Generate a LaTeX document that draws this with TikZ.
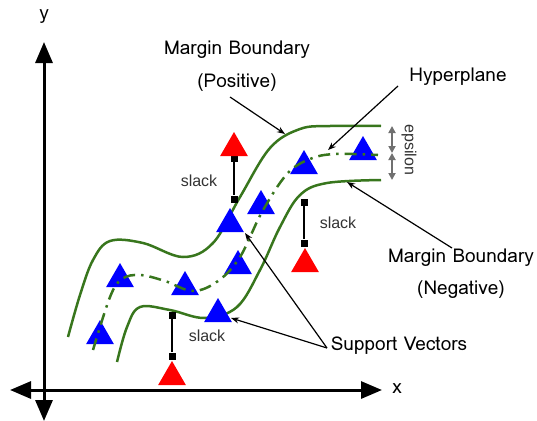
\documentclass[tikz,border=0pt]{standalone}
\usepackage{fontspec}
\setmainfont{Loma}
\newfontfamily\arialf{Liberation Sans}
\usetikzlibrary{arrows.meta,shapes.geometric}
\definecolor{cgreen}{RGB}{56,118,29}
\definecolor{cgray}{RGB}{112,112,112}
\definecolor{slackgray}{RGB}{51,51,51}
\begin{document}
\begin{tikzpicture}[x=1pt,y=-1pt,
 tri/.style={regular polygon,regular polygon sides=3,minimum size=32pt,inner sep=0pt,outer sep=0pt},
 bluetri/.style={tri,fill=blue},
 redtri/.style={tri,fill=red},
 sq/.style={rectangle,fill=black,minimum size=7pt,inner sep=0pt},
 bound/.style={cgreen,line width=2.5pt},
 hyper/.style={cgreen,line width=2.5pt,dash pattern=on 12pt off 6pt on 2.5pt off 6pt},
 axis/.style={line width=3pt,{Triangle[length=21pt,width=17pt]}-{Triangle[length=21pt,width=17pt]}},
 lab/.style={font=\fontsize{19}{22}\selectfont},
 slk/.style={font=\arialf\fontsize{16}{18}\selectfont,text=slackgray},
 call/.style={line width=1.2pt,-{Stealth[length=8pt,width=6pt]}},
 eps/.style={cgray,line width=2pt,{Triangle[length=7pt,width=7pt]}-{Triangle[length=7pt,width=7pt]}}
]
\useasboundingbox (0,0) rectangle (537,420);
% axes
\coordinate (ytop) at (44,42);
\coordinate (ybot) at (44,421);
\coordinate (xleft) at (10,390);
\coordinate (xright) at (382,390);
\draw[axis] (ybot) -- (ytop);
\draw[axis] (xleft) -- (xright);
\node[lab] (ylab) at (44,17) {y};
\node[lab] (xlab) at (397,389) {x};
% margin boundaries
\draw[bound] plot[smooth,tension=0.6] coordinates {(68,337) (80,295) (93,260) (110,241) (143,243) (183,257) (213,243) (240,197) (270,148) (300,129) (330,126) (381,126)};
\draw[bound] plot[smooth,tension=0.6] coordinates {(117,362) (127,327) (140,307) (170,310) (205,318) (237,307) (260,270) (280,227) (300,195) (327,183) (381,180)};
% slack lines
\node[sq] (s1a) at (234,158) {};
\node[sq] (s1b) at (234,199) {};
\node[sq] (s2a) at (304,202) {};
\node[sq] (s2b) at (304,243) {};
\node[sq] (s3a) at (172,315) {};
\node[sq] (s3b) at (172,356) {};
\draw[line width=1.5pt] (s1a) -- (s1b);
\draw[line width=1.5pt] (s2a) -- (s2b);
\draw[line width=1.5pt] (s3a) -- (s3b);
\node[slk] (sl1) at (199,181) {slack};
\node[slk] (sl2) at (338,223) {slack};
\node[slk] (sl3) at (207,336) {slack};
% triangles
\node[bluetri] (b1) at (100,336) {};
\node[bluetri] (b2) at (120,279) {};
\node[bluetri] (b3) at (185,287) {};
\node[bluetri] (b4) at (218,314) {};
\node[bluetri] (b5) at (238,266) {};
\node[bluetri] (b6) at (230,224) {};
\node[bluetri] (b7) at (261,206) {};
\node[bluetri] (b8) at (304,166) {};
\node[bluetri] (b9) at (363,152) {};
\node[redtri] (r1) at (234,148) {};
\node[redtri] (r2) at (305,264) {};
\node[redtri] (r3) at (172,377) {};
% hyperplane
\draw[hyper] plot[smooth,tension=0.6] coordinates {(93,350) (110,297) (122,279) (140,275) (165,281) (193,291) (218,281) (240,257) (262,212) (287,174) (310,159) (335,154) (378,155)};
% epsilon
\coordinate (e1) at (392,126);
\coordinate (e2) at (392,153);
\coordinate (e3) at (392,180);
\draw[eps] (e1) -- (e2);
\draw[eps] (e2) -- (e3);
\node[slk,rotate=-90] (epsl) at (409,150) {epsilon};
% labels
\node[lab] (mbp) at (237,50) {Margin Boundary};
\node[lab] (mbp2) at (237,83) {(Positive)};
\node[lab] (hyp) at (458,77) {Hyperplane};
\node[lab] (mbn) at (461,258) {Margin Boundary};
\node[lab] (mbn2) at (461,290) {(Negative)};
\node[lab] (sv) at (399,346) {Support Vectors};
% callouts
\coordinate (cpos0) at (230,97);
\coordinate (cpos1) at (285,134);
\coordinate (chyp0) at (398,86);
\coordinate (chyp1) at (328,150);
\coordinate (cneg0) at (452,248);
\coordinate (cneg1) at (347,182);
\coordinate (csv) at (327,348);
\coordinate (csv1) at (245,233);
\coordinate (csv2) at (231,318);
\draw[call] (cpos0) -- (cpos1);
\draw[call] (chyp0) -- (chyp1);
\draw[call] (cneg0) -- (cneg1);
\draw[call] (csv) -- (csv1);
\draw[call] (csv) -- (csv2);
\end{tikzpicture}
\end{document}
